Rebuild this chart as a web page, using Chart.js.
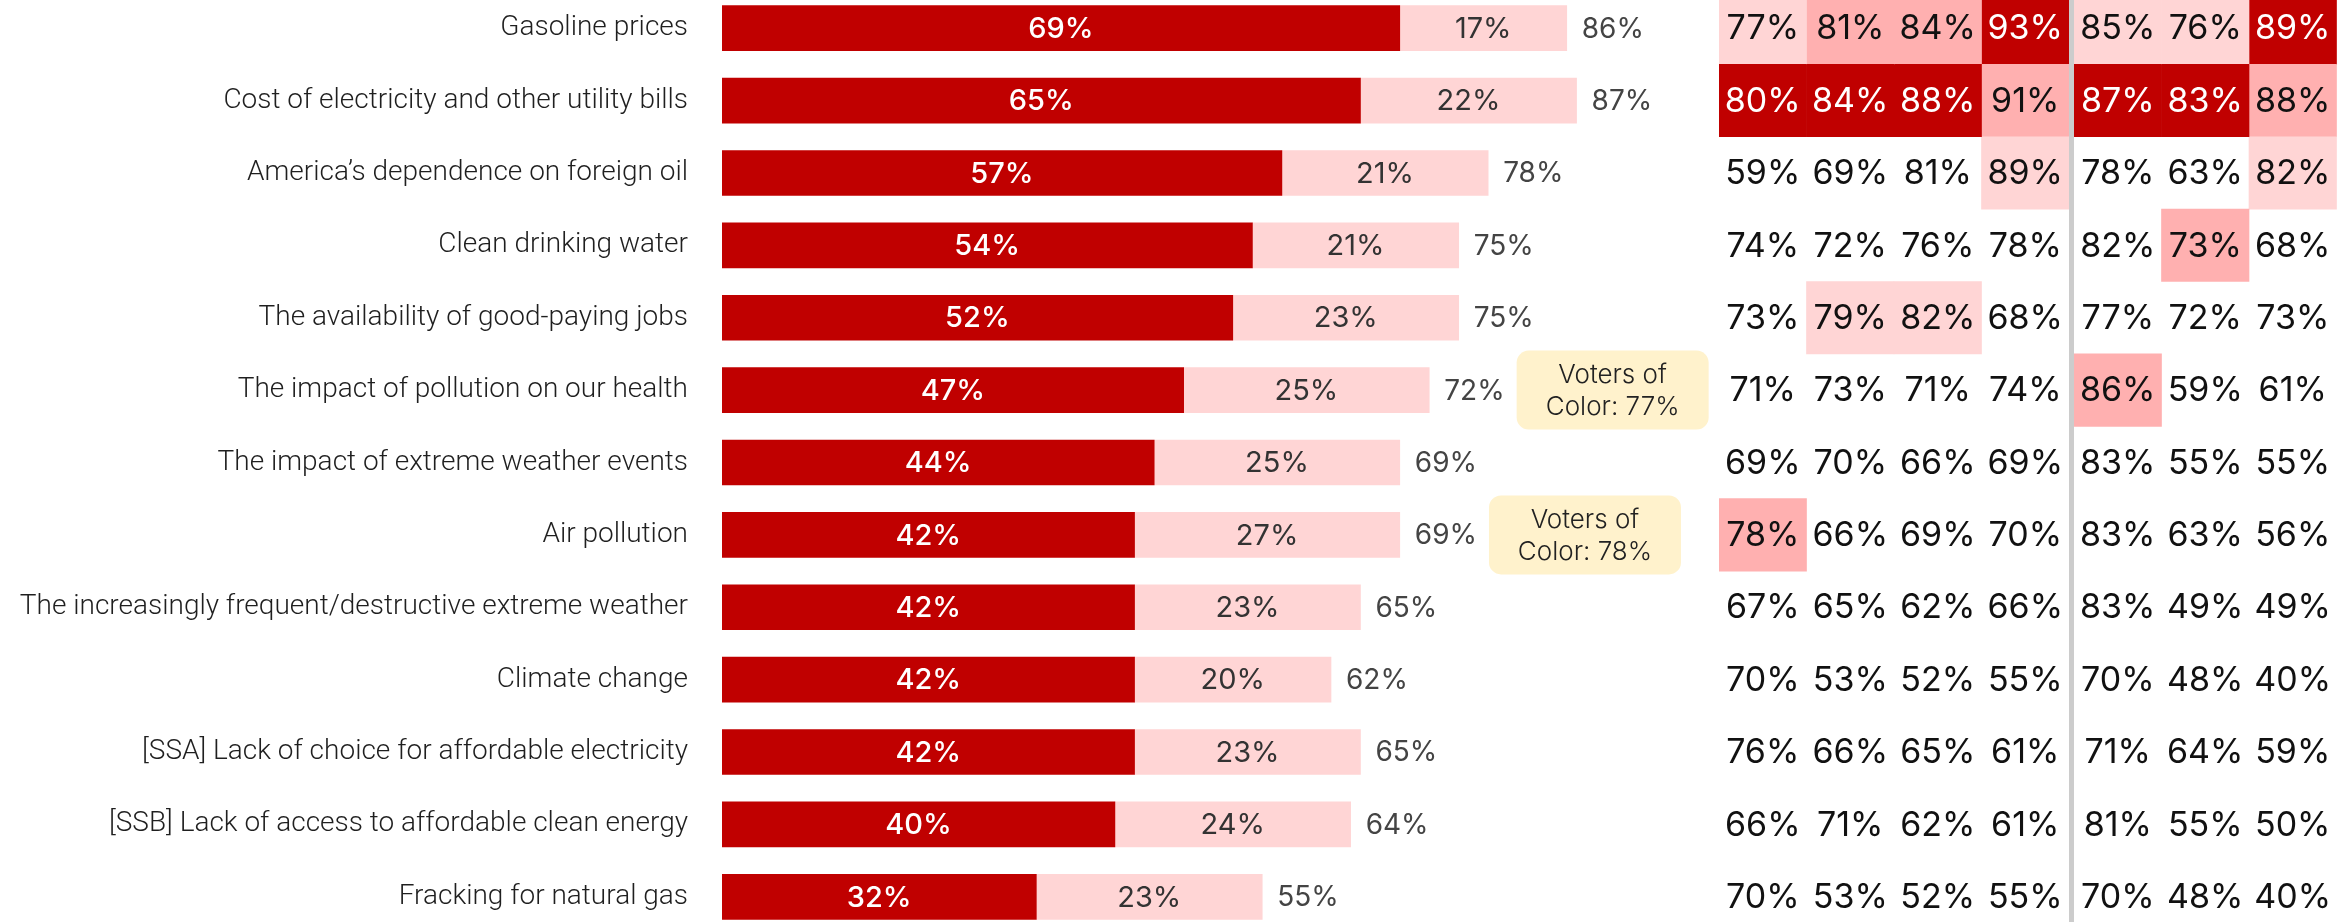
<!DOCTYPE html>
<html>
<head>
<meta charset="utf-8">
<script src="https://cdn.jsdelivr.net/npm/chart.js@4"></script>
<style>
  html, body { margin: 0; padding: 0; background: #fff; overflow: hidden; }
  body { width: 2339px; height: 922px; position: relative; }
  #bars { position: absolute; left: 0; top: -8px; }
  #heat { position: absolute; left: 1719px; top: -8px; }
</style>
</head>
<body>
<canvas id="bars" width="1719" height="941"></canvas>
<canvas id="heat" width="620" height="941"></canvas>
<script>
// categories and values
const categories = [
  "Gasoline prices",
  "Cost of electricity and other utility bills",
  "America\u2019s dependence on foreign oil",
  "Clean drinking water",
  "The availability of good-paying jobs",
  "The impact of pollution on our health",
  "The impact of extreme weather events",
  "Air pollution",
  "The increasingly frequent/destructive extreme weather",
  "Climate change",
  "[SSA] Lack of choice for affordable electricity",
  "[SSB] Lack of access to affordable clean energy",
  "Fracking for natural gas"
];
const veryConcerned     = [69, 65, 57, 54, 52, 47, 44, 42, 42, 42, 42, 40, 32];
const somewhatConcerned = [17, 22, 21, 21, 23, 25, 25, 27, 23, 20, 23, 24, 23];
const totalConcerned    = [86, 87, 78, 75, 75, 72, 69, 69, 65, 62, 65, 64, 55];

// callouts next to the totals
const calloutRows   = [5, 7];
const calloutValues = [77, 78];

// heatmap: one row per category, 7 columns (4 | 3)
const heatValues = [
  [77, 81, 84, 93, 85, 76, 89],
  [80, 84, 88, 91, 87, 83, 88],
  [59, 69, 81, 89, 78, 63, 82],
  [74, 72, 76, 78, 82, 73, 68],
  [73, 79, 82, 68, 77, 72, 73],
  [71, 73, 71, 74, 86, 59, 61],
  [69, 70, 66, 69, 83, 55, 55],
  [78, 66, 69, 70, 83, 63, 56],
  [67, 65, 62, 66, 83, 49, 49],
  [70, 53, 52, 55, 70, 48, 40],
  [76, 66, 65, 61, 71, 64, 59],
  [66, 71, 62, 61, 81, 55, 50],
  [70, 53, 52, 55, 70, 48, 40]
];
// shading level of each cell: 0 none, 1 light, 2 medium, 3 dark
const heatShades = [
  [1, 2, 2, 3, 1, 1, 3],
  [3, 3, 3, 2, 3, 3, 2],
  [0, 0, 0, 1, 0, 0, 1],
  [0, 0, 0, 0, 0, 2, 0],
  [0, 1, 1, 0, 0, 0, 0],
  [0, 0, 0, 0, 2, 0, 0],
  [0, 0, 0, 0, 0, 0, 0],
  [2, 0, 0, 0, 0, 0, 0],
  [0, 0, 0, 0, 0, 0, 0],
  [0, 0, 0, 0, 0, 0, 0],
  [0, 0, 0, 0, 0, 0, 0],
  [0, 0, 0, 0, 0, 0, 0],
  [0, 0, 0, 0, 0, 0, 0]
];

const DARK = '#c00000';
const LIGHT = '#ffd5d5';
const MEDIUM = '#ffb0b0';
const shadeColors = ['rgba(0,0,0,0)', LIGHT, MEDIUM, DARK];
const numFont = '"Inter", "Noto Sans", sans-serif';

// labels inside the bars, totals and callouts
const barLabels = {
  id: 'barLabels',
  afterDatasetsDraw(chart) {
    const ctx = chart.ctx;
    ctx.save();
    ctx.textBaseline = 'middle';
    chart.data.datasets.forEach((ds, di) => {
      const meta = chart.getDatasetMeta(di);
      ctx.font = (di == 0 ? '500' : '400') + ' 29px ' + numFont;
      meta.data.forEach((el, i) => {
        ctx.fillStyle = di == 0 ? '#ffffff' : '#333333';
        ctx.textAlign = 'center';
        ctx.fillText(ds.data[i] + '%', (el.x + el.base) / 2, el.y + 1);
      });
    });

    // totals
    const last = chart.getDatasetMeta(chart.data.datasets.length - 1);
    ctx.font = '400 28px ' + numFont;
    ctx.fillStyle = '#444444';
    ctx.textAlign = 'left';
    const ends = [];
    last.data.forEach((el, i) => {
      const txt = totalConcerned[i] + '%';
      ctx.fillText(txt, el.x + 15, el.y + 1);
      ends.push(el.x + 15 + ctx.measureText(txt).width);
    });

    // "Voters of Color" boxes
    calloutRows.forEach((row, k) => {
      const el = last.data[row];
      const w = 192, h = 79;
      const x = ends[row] + 12;
      const y = el.y - h / 2;
      ctx.fillStyle = '#fff2cc';
      ctx.beginPath();
      ctx.roundRect(x, y, w, h, 12);
      ctx.fill();
      ctx.fillStyle = '#222222';
      ctx.textAlign = 'center';
      ctx.font = '300 26px ' + numFont;
      ctx.fillText('Voters of', x + w / 2, el.y - 15);
      ctx.fillText('Color: ' + calloutValues[k] + '%', x + w / 2, el.y + 17);
    });
    ctx.restore();
  }
};

new Chart(document.getElementById('bars'), {
  type: 'bar',
  data: {
    labels: categories,
    datasets: [
      { label: 'Very', data: veryConcerned, backgroundColor: DARK },
      { label: 'Somewhat', data: somewhatConcerned, backgroundColor: LIGHT }
    ]
  },
  options: {
    indexAxis: 'y',
    responsive: false,
    animation: false,
    layout: { padding: 0 },
    datasets: { bar: { barThickness: 45, borderWidth: 0 } },
    plugins: { legend: { display: false }, tooltip: { enabled: false } },
    scales: {
      x: { stacked: true, min: 0, max: 101.5, display: false },
      y: {
        stacked: true,
        grid: { display: false, drawTicks: false },
        border: { display: false },
        ticks: {
          padding: 34,
          color: '#1f1f1f',
          font: { family: 'Roboto, "Liberation Sans", sans-serif', size: 28, weight: '300' }
        },
        afterFit(scale) {
          scale.width = 722;
          // keep the rows spread over the full height
          scale.paddingTop = 0;
          scale.paddingBottom = 0;
        }
      }
    }
  },
  plugins: [barLabels]
});

// heatmap
const GAP = 5 / 87.5; // divider between the two column groups
const colStart = c => c + (c >= 4 ? GAP : 0);

const heatText = {
  id: 'heatText',
  afterDatasetsDraw(chart) {
    const ctx = chart.ctx;
    ctx.save();
    // divider
    const xs = chart.scales.x;
    const dx = xs.getPixelForValue(4 + GAP / 2);
    ctx.fillStyle = '#cccccc';
    ctx.fillRect(dx - 2.5, 0, 5, chart.height);

    ctx.font = '400 34px ' + numFont;
    ctx.textAlign = 'center';
    ctx.textBaseline = 'middle';
    chart.data.datasets.forEach((ds, c) => {
      const meta = chart.getDatasetMeta(c);
      meta.data.forEach((el, r) => {
        ctx.fillStyle = heatShades[r][c] == 3 ? '#ffffff' : '#111111';
        ctx.fillText(heatValues[r][c] + '%', (el.x + el.base) / 2, el.y + 1);
      });
    });
    ctx.restore();
  }
};

const heatDatasets = [0, 1, 2, 3, 4, 5, 6].map(c => ({
  label: 'col' + c,
  data: heatValues.map(() => [colStart(c), colStart(c) + 1]),
  backgroundColor: heatShades.map(row => shadeColors[row[c]]),
  borderWidth: 0,
  grouped: false,
  categoryPercentage: 1,
  barPercentage: 1
}));

new Chart(document.getElementById('heat'), {
  type: 'bar',
  data: { labels: categories, datasets: heatDatasets },
  options: {
    indexAxis: 'y',
    responsive: false,
    animation: false,
    layout: { padding: 0 },
    plugins: { legend: { display: false }, tooltip: { enabled: false } },
    scales: {
      x: { min: 0, max: 620 / 87.5, display: false },
      y: { display: false }
    }
  },
  plugins: [heatText]
});
</script>
</body>
</html>
